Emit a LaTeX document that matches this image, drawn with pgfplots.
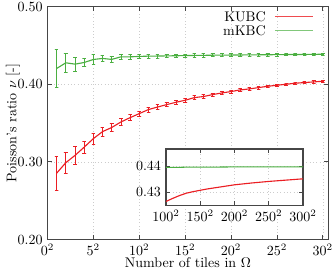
\documentclass[border=0pt]{standalone}
\usepackage{pgfplots}
\pgfplotsset{compat=1.18}
\definecolor{kred}{RGB}{235,30,35}
\definecolor{kgreen}{RGB}{75,175,65}
\definecolor{framegray}{RGB}{70,70,70}

\pgfplotstableread{
n nu
1 0.2855
2 0.2990
3 0.3084
4 0.3190
5 0.3300
6 0.3390
7 0.3443
8 0.3514
9 0.3570
10 0.3622
11 0.3674
12 0.3707
13 0.3738
14 0.3768
15 0.3794
16 0.3828
17 0.3842
18 0.3867
19 0.3888
20 0.3906
21 0.3927
22 0.3940
23 0.3957
24 0.3974
25 0.3987
26 0.4000
27 0.4013
28 0.4022
29 0.4030
30 0.4039
}\kubc

% KUBC error bars (I-beams: caps at lower and upper ends)
\pgfplotstableread{
n nu
0.8 0.2635
1.2 0.2635
1 0.2635
1 0.3075
0.8 0.3075
1.2 0.3075
1 nan
1.8 0.2855
2.2 0.2855
2 0.2855
2 0.3125
1.8 0.3125
2.2 0.3125
2 nan
2.8 0.2974
3.2 0.2974
3 0.2974
3 0.3194
2.8 0.3194
3.2 0.3194
3 nan
3.8 0.3110
4.2 0.3110
4 0.3110
4 0.3270
3.8 0.3270
4.2 0.3270
4 nan
4.8 0.3230
5.2 0.3230
5 0.3230
5 0.3370
4.8 0.3370
5.2 0.3370
5 nan
5.8 0.3335
6.2 0.3335
6 0.3335
6 0.3445
5.8 0.3445
6.2 0.3445
6 nan
6.8 0.3393
7.2 0.3393
7 0.3393
7 0.3493
6.8 0.3493
7.2 0.3493
7 nan
7.8 0.3469
8.2 0.3469
8 0.3469
8 0.3559
7.8 0.3559
8.2 0.3559
8 nan
8.8 0.3530
9.2 0.3530
9 0.3530
9 0.3610
8.8 0.3610
9.2 0.3610
9 nan
9.8 0.3587
10.2 0.3587
10 0.3587
10 0.3657
9.8 0.3657
10.2 0.3657
10 nan
10.8 0.3642
11.2 0.3642
11 0.3642
11 0.3706
10.8 0.3706
11.2 0.3706
11 nan
11.8 0.3677
12.2 0.3677
12 0.3677
12 0.3737
11.8 0.3737
12.2 0.3737
12 nan
12.8 0.3710
13.2 0.3710
13 0.3710
13 0.3766
12.8 0.3766
13.2 0.3766
13 nan
13.8 0.3742
14.2 0.3742
14 0.3742
14 0.3794
13.8 0.3794
14.2 0.3794
14 nan
14.8 0.3769
15.2 0.3769
15 0.3769
15 0.3819
14.8 0.3819
15.2 0.3819
15 nan
15.8 0.3804
16.2 0.3804
16 0.3804
16 0.3852
15.8 0.3852
16.2 0.3852
16 nan
16.8 0.3819
17.2 0.3819
17 0.3819
17 0.3865
16.8 0.3865
17.2 0.3865
17 nan
17.8 0.3845
18.2 0.3845
18 0.3845
18 0.3889
17.8 0.3889
18.2 0.3889
18 nan
18.8 0.3867
19.2 0.3867
19 0.3867
19 0.3909
18.8 0.3909
19.2 0.3909
19 nan
19.8 0.3886
20.2 0.3886
20 0.3886
20 0.3926
19.8 0.3926
20.2 0.3926
20 nan
20.8 0.3907
21.2 0.3907
21 0.3907
21 0.3947
20.8 0.3947
21.2 0.3947
21 nan
21.8 0.3921
22.2 0.3921
22 0.3921
22 0.3959
21.8 0.3959
22.2 0.3959
22 nan
22.8 0.3939
23.2 0.3939
23 0.3939
23 0.3975
22.8 0.3975
23.2 0.3975
23 nan
23.8 0.3956
24.2 0.3956
24 0.3956
24 0.3992
23.8 0.3992
24.2 0.3992
24 nan
24.8 0.3970
25.2 0.3970
25 0.3970
25 0.4004
24.8 0.4004
25.2 0.4004
25 nan
25.8 0.3984
26.2 0.3984
26 0.3984
26 0.4016
25.8 0.4016
26.2 0.4016
26 nan
26.8 0.3997
27.2 0.3997
27 0.3997
27 0.4029
26.8 0.4029
27.2 0.4029
27 nan
27.8 0.4007
28.2 0.4007
28 0.4007
28 0.4037
27.8 0.4037
28.2 0.4037
28 nan
28.8 0.4015
29.2 0.4015
29 0.4015
29 0.4045
28.8 0.4045
29.2 0.4045
29 nan
29.8 0.4025
30.2 0.4025
30 0.4025
30 0.4053
29.8 0.4053
30.2 0.4053
30 nan
}\kubcerr

\pgfplotstableread{
n nu
1 0.4203
2 0.4276
3 0.4259
4 0.4280
5 0.4319
6 0.4332
7 0.4320
8 0.4353
9 0.4353
10 0.4358
11 0.4362
12 0.4363
13 0.4365
14 0.4367
15 0.4369
16 0.4371
17 0.4372
18 0.4374
19 0.4375
20 0.4376
21 0.4377
22 0.4378
23 0.4379
24 0.4380
25 0.4381
26 0.4382
27 0.4383
28 0.4384
29 0.4385
30 0.4386
}\mkbc

% mKBC error bars
\pgfplotstableread{
n nu
0.8 0.3956
1.2 0.3956
1 0.3956
1 0.4450
0.8 0.4450
1.2 0.4450
1 nan
1.8 0.4154
2.2 0.4154
2 0.4154
2 0.4398
1.8 0.4398
2.2 0.4398
2 nan
2.8 0.4172
3.2 0.4172
3 0.4172
3 0.4346
2.8 0.4346
3.2 0.4346
3 nan
3.8 0.4226
4.2 0.4226
4 0.4226
4 0.4334
3.8 0.4334
4.2 0.4334
4 nan
4.8 0.4255
5.2 0.4255
5 0.4255
5 0.4383
4.8 0.4383
5.2 0.4383
5 nan
5.8 0.4292
6.2 0.4292
6 0.4292
6 0.4372
5.8 0.4372
6.2 0.4372
6 nan
6.8 0.4280
7.2 0.4280
7 0.4280
7 0.4360
6.8 0.4360
7.2 0.4360
7 nan
7.8 0.4323
8.2 0.4323
8 0.4323
8 0.4383
7.8 0.4383
8.2 0.4383
8 nan
8.8 0.4323
9.2 0.4323
9 0.4323
9 0.4383
8.8 0.4383
9.2 0.4383
9 nan
9.8 0.4330
10.2 0.4330
10 0.4330
10 0.4386
9.8 0.4386
10.2 0.4386
10 nan
10.8 0.4336
11.2 0.4336
11 0.4336
11 0.4388
10.8 0.4388
11.2 0.4388
11 nan
11.8 0.4338
12.2 0.4338
12 0.4338
12 0.4388
11.8 0.4388
12.2 0.4388
12 nan
12.8 0.4341
13.2 0.4341
13 0.4341
13 0.4389
12.8 0.4389
13.2 0.4389
13 nan
13.8 0.4344
14.2 0.4344
14 0.4344
14 0.4390
13.8 0.4390
14.2 0.4390
14 nan
14.8 0.4347
15.2 0.4347
15 0.4347
15 0.4391
14.8 0.4391
15.2 0.4391
15 nan
15.8 0.4350
16.2 0.4350
16 0.4350
16 0.4392
15.8 0.4392
16.2 0.4392
16 nan
16.8 0.4352
17.2 0.4352
17 0.4352
17 0.4392
16.8 0.4392
17.2 0.4392
17 nan
17.8 0.4354
18.2 0.4354
18 0.4354
18 0.4394
17.8 0.4394
18.2 0.4394
18 nan
18.8 0.4356
19.2 0.4356
19 0.4356
19 0.4394
18.8 0.4394
19.2 0.4394
19 nan
19.8 0.4358
20.2 0.4358
20 0.4358
20 0.4394
19.8 0.4394
20.2 0.4394
20 nan
20.8 0.4359
21.2 0.4359
21 0.4359
21 0.4395
20.8 0.4395
21.2 0.4395
21 nan
21.8 0.4361
22.2 0.4361
22 0.4361
22 0.4395
21.8 0.4395
22.2 0.4395
22 nan
22.8 0.4362
23.2 0.4362
23 0.4362
23 0.4396
22.8 0.4396
23.2 0.4396
23 nan
23.8 0.4364
24.2 0.4364
24 0.4364
24 0.4396
23.8 0.4396
24.2 0.4396
24 nan
24.8 0.4365
25.2 0.4365
25 0.4365
25 0.4397
24.8 0.4397
25.2 0.4397
25 nan
25.8 0.4367
26.2 0.4367
26 0.4367
26 0.4397
25.8 0.4397
26.2 0.4397
26 nan
26.8 0.4368
27.2 0.4368
27 0.4368
27 0.4398
26.8 0.4398
27.2 0.4398
27 nan
27.8 0.4370
28.2 0.4370
28 0.4370
28 0.4398
27.8 0.4398
28.2 0.4398
28 nan
28.8 0.4371
29.2 0.4371
29 0.4371
29 0.4399
28.8 0.4399
29.2 0.4399
29 nan
29.8 0.4373
30.2 0.4373
30 0.4373
30 0.4399
29.8 0.4399
30.2 0.4399
30 nan
}\mkbcerr

\pgfplotstableread{
n nu
100 0.4264
110 0.4276
120 0.4287
130 0.4296
140 0.4302
150 0.4307
160 0.4312
175 0.4318
200 0.4328
225 0.4335
250 0.4341
275 0.4346
300 0.4351
}\kubcbig

\pgfplotstableread{
n nu
100 0.4395
110 0.4395
120 0.4395
130 0.4396
140 0.4396
150 0.4396
160 0.4396
175 0.4396
200 0.4397
225 0.4397
250 0.4397
275 0.4397
300 0.4397
}\mkbcbig

\begin{document}
\begin{tikzpicture}
\useasboundingbox (-33.9pt,-23.2pt) rectangle (203.2pt,171.1pt);
\pgfplotsset{
  common/.style={
    scale only axis,
    anchor=south west,
    grid=major,
    grid style={dotted, gray!40},
    axis line style={framegray, line width=0.9pt},
    tick style={framegray, line width=0.6pt},
    tick align=inside,
    major tick length=3pt,
    unbounded coords=jump,
    xticklabel={$\pgfmathprintnumber{\tick}^2$},
    yticklabel style={/pgf/number format/.cd, fixed, fixed zerofill, precision=2},
  },
}
\begin{axis}[common,
  at={(0pt,0pt)},
  width=200.6pt, height=166.4pt,
  xmin=0, xmax=30.6, ymin=0.2, ymax=0.5,
  xtick={0,5,...,30},
  ytick={0.2,0.3,0.4,0.5},
  xlabel={Number of tiles in $\Omega$},
  ylabel={Poisson's ratio $\nu$ [-]},
  xlabel style={at={(axis description cs:0.5,-0.1)}, anchor=center},
  ylabel style={at={(axis description cs:-0.123,0.5)}, anchor=center},
]
\addplot[color=kred, line width=0.5pt, mark=none] table[x=n, y=nu] {\kubcerr};
\addplot[color=kgreen, line width=0.5pt, mark=none] table[x=n, y=nu] {\mkbcerr};
\addplot[color=kred, line width=0.8pt, mark=none] table[x=n, y=nu] {\kubc};
\addplot[color=kgreen, line width=0.8pt, mark=none] table[x=n, y=nu] {\mkbc};
\node[anchor=east, inner sep=0pt] at (axis description cs:0.778,0.956) {KUBC};
\node[anchor=east, inner sep=0pt] at (axis description cs:0.778,0.896) {mKBC};
\draw[kred!80!white, line width=0.9pt] (axis description cs:0.81,0.956) -- (axis description cs:0.9455,0.956);
\draw[kgreen!70!white, line width=0.9pt] (axis description cs:0.81,0.896) -- (axis description cs:0.9455,0.896);
\end{axis}
\begin{axis}[common,
  at={(84.6pt,24.6pt)},
  width=97.9pt, height=40pt,
  xmin=100, xmax=300, ymin=0.425, ymax=0.4465,
  xtick={100,150,...,300},
  ytick={0.43,0.44},
  axis background/.style={fill=white},
]
\addplot[color=kred, line width=0.8pt, mark=none] table[x=n, y=nu] {\kubcbig};
\addplot[color=kgreen, line width=0.8pt, mark=none] table[x=n, y=nu] {\mkbcbig};
\end{axis}
\end{tikzpicture}
\end{document}
